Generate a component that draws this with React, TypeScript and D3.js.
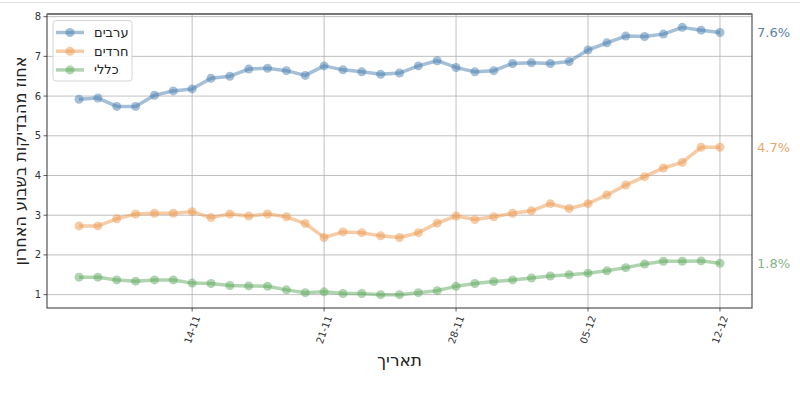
import React from "react";
import * as d3 from "d3";

const startDate = Date.UTC(2021, 10, 8);
const dayMs = 86400000;

const arabs = [5.92, 5.95, 5.74, 5.74, 6.02, 6.13, 6.18, 6.45, 6.50, 6.68, 6.70, 6.64, 6.52, 6.76, 6.66, 6.61, 6.55, 6.58, 6.76, 6.89, 6.72, 6.61, 6.64, 6.82, 6.84, 6.82, 6.87, 7.16, 7.34, 7.51, 7.50, 7.56, 7.73, 7.66, 7.60];
const haredim = [2.73, 2.73, 2.91, 3.03, 3.05, 3.05, 3.09, 2.94, 3.03, 2.98, 3.03, 2.96, 2.79, 2.44, 2.58, 2.56, 2.48, 2.44, 2.56, 2.80, 2.98, 2.89, 2.96, 3.05, 3.11, 3.29, 3.17, 3.29, 3.51, 3.76, 3.97, 4.19, 4.33, 4.71, 4.71];
const general = [1.44, 1.44, 1.37, 1.34, 1.37, 1.37, 1.29, 1.28, 1.23, 1.22, 1.21, 1.12, 1.05, 1.07, 1.03, 1.03, 1.00, 1.00, 1.05, 1.10, 1.21, 1.28, 1.33, 1.37, 1.42, 1.47, 1.50, 1.54, 1.60, 1.68, 1.77, 1.84, 1.84, 1.85, 1.79];

const dates = arabs.map((_, i) => new Date(startDate + i * dayMs));
const xTickDates = [Date.UTC(2021, 10, 14), Date.UTC(2021, 10, 21), Date.UTC(2021, 10, 28), Date.UTC(2021, 11, 5), Date.UTC(2021, 11, 12)].map((t) => new Date(t));
const yTicks = [1, 2, 3, 4, 5, 6, 7, 8];

const seriesNames = ["ערבים", "חרדים", "כללי"];
const seriesValues = [arabs, haredim, general];
const seriesColors = ["#4a7fb0", "#ee9a50", "#5faa5f"];
const labelColors = ["#5d82a6", "#e9a66a", "#86b586"];

const yTitle = "אחוז מהבדיקות בשבוע האחרון";
const xTitle = "תאריך";

const W = 800, H = 395;
const L = 47, R = 752, T = 14, B = 308;

export default function App() {
  const t0 = dates[0].getTime();
  const t1 = dates[dates.length - 1].getTime();
  const padX = (t1 - t0) * 0.05;
  const x = d3.scaleUtc().domain([new Date(t0 - padX), new Date(t1 + padX)]).range([L, R]);
  const all = seriesValues.flat();
  const ymin = d3.min(all)!, ymax = d3.max(all)!;
  const padY = (ymax - ymin) * 0.05;
  const y = d3.scaleLinear().domain([ymin - padY, ymax + padY]).range([B, T]);
  const fmt = d3.utcFormat("%d-%m");
  const line = d3.line<number>().x((_, i) => x(dates[i])).y((v) => y(v));
  const font = "DejaVu Sans, sans-serif";

  return (
    <svg width={W} height={H} style={{ position: "absolute", left: 0, top: 0, background: "#fff" }} fontFamily={font}>
      <line x1={0} x2={W} y1={2.5} y2={2.5} stroke="#e2e2e2" strokeWidth={1} />
      {xTickDates.map((d, i) => (
        <line key={"gx" + i} x1={x(d)} x2={x(d)} y1={T} y2={B} stroke="#b0b0b0" strokeWidth={0.8} />
      ))}
      {yTicks.map((v) => (
        <line key={"gy" + v} x1={L} x2={R} y1={y(v)} y2={y(v)} stroke="#b0b0b0" strokeWidth={0.8} />
      ))}
      {seriesValues.map((vals, si) => (
        <g key={"s" + si}>
          <path d={line(vals)!} fill="none" stroke={seriesColors[si]} strokeOpacity={0.5} strokeWidth={3.5} strokeLinejoin="round" />
          {vals.map((v, i) => (
            <circle key={i} cx={x(dates[i])} cy={y(v)} r={4.5} fill={seriesColors[si]} fillOpacity={0.5} />
          ))}
        </g>
      ))}
      <rect x={L} y={T} width={R - L} height={B - T} fill="none" stroke="#333" strokeWidth={1} />
      <line x1={L} x2={R} y1={T} y2={T} stroke="#777" strokeWidth={2} />
      {yTicks.map((v) => (
        <g key={"ty" + v}>
          <line x1={L - 3.5} x2={L} y1={y(v)} y2={y(v)} stroke="#333" strokeWidth={0.8} />
          <text x={L - 6} y={y(v)} dy="0.35em" textAnchor="end" fontSize={10} fill="#333">{v}</text>
        </g>
      ))}
      {xTickDates.map((d, i) => (
        <g key={"tx" + i}>
          <line x1={x(d)} x2={x(d)} y1={B} y2={B + 3.5} stroke="#333" strokeWidth={0.8} />
          <text transform={`translate(${x(d) + 5},${B + 8}) rotate(-70)`} textAnchor="end" dy="0.35em" fontSize={10} fill="#333">{fmt(d)}</text>
        </g>
      ))}
      <text x={(L + R) / 2} y={360} dy="0.35em" textAnchor="middle" fontSize={17} fill="#222">{xTitle}</text>
      <text transform={`translate(20,${(T + B) / 2}) rotate(-90)`} textAnchor="middle" dy="0.35em" fontSize={16} fill="#222">{yTitle}</text>
      {seriesValues.map((vals, si) => (
        <text key={"el" + si} x={757} y={y(vals[vals.length - 1])} dy="0.35em" fontSize={13} fill={labelColors[si]}>
          {vals[vals.length - 1].toFixed(1) + "%"}
        </text>
      ))}
      <rect x={53} y={20.5} width={79} height={60.5} rx={3} fill="#fff" fillOpacity={0.85} stroke="#d5d5d5" strokeWidth={1} />
      {seriesNames.map((n, si) => {
        const ly = 32.5 + si * 18.7;
        return (
          <g key={"lg" + si}>
            <line x1={56} x2={84} y1={ly} y2={ly} stroke={seriesColors[si]} strokeOpacity={0.5} strokeWidth={3.5} />
            <circle cx={70} cy={ly} r={4.5} fill={seriesColors[si]} fillOpacity={0.5} />
            <text x={94} y={ly} dy="0.35em" textAnchor="start" fontSize={13} fill="#222">{n}</text>
          </g>
        );
      })}
    </svg>
  );
}
